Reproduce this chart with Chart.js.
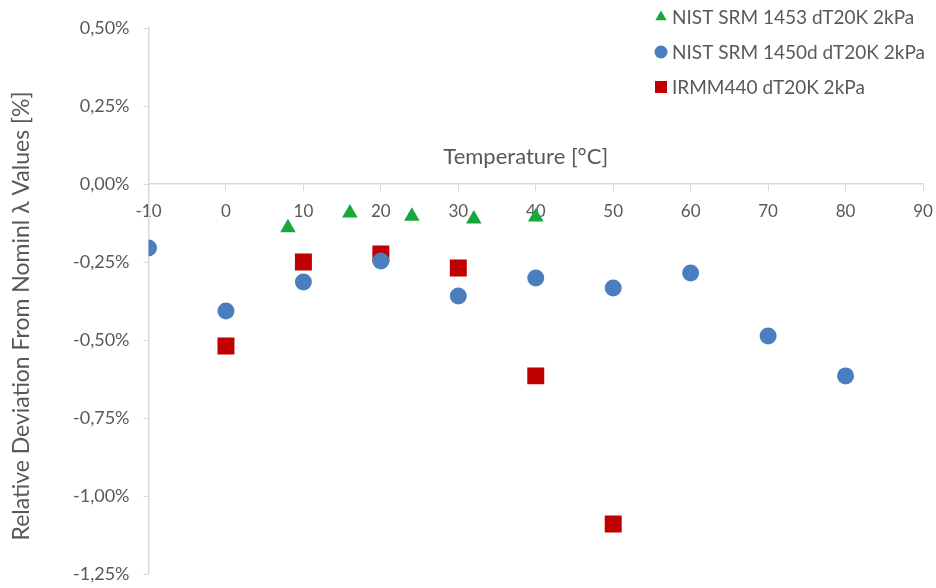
<!DOCTYPE html>
<html>
<head>
<meta charset="utf-8">
<script src="https://cdn.jsdelivr.net/npm/chart.js@4.4.1/dist/chart.umd.min.js"></script>
<style>
	html, body { margin: 0; padding: 0; background: #fff; }
	#wrap { width: 936px; height: 588px; position: relative; }
</style>
</head>
<body>
<div id="wrap"><canvas id="devChart"></canvas></div>
<script>
// values (deviation in %)
const srm1453_x = [8, 16, 24, 32, 40];
const srm1453_y = [-0.14, -0.093, -0.103, -0.112, -0.106];
const srm1450d_x = [-10, 0, 10, 20, 30, 40, 50, 60, 70, 80];
const srm1450d_y = [-0.205, -0.407, -0.314, -0.247, -0.359, -0.301, -0.333, -0.285, -0.487, -0.615];
const irmm440_x = [0, 10, 20, 30, 40, 50];
const irmm440_y = [-0.519, -0.25, -0.224, -0.269, -0.615, -1.09];
const seriesNames = ['NIST SRM 1453 dT20K 2kPa', 'NIST SRM 1450d dT20K 2kPa', 'IRMM440 dT20K 2kPa'];
const xRange = [-10, 90, 10];
const yRange = [-1.25, 0.5, 0.25];
const xTitle = 'Temperature [°C]';
const yTitle = 'Relative Deviation From Nominl λ Values [%]';

const toPts = (xs, ys) => xs.map((x, i) => ({ x: x, y: ys[i] }));
const fmtPct = (v) => {
	if (Math.abs(v) < 1e-9) v = 0;
	return v.toFixed(2).replace('.', ',') + '%';
};

const FONT = 'Lato, "Open Sans", sans-serif';
const GREY = '#595959';

// legend (stacked, top right), x title above the zero line, y title on the left
const extras = {
	id: 'extras',
	afterDraw(chart) {
		const ctx = chart.ctx;
		const xs = chart.scales.x, ys = chart.scales.y;
		ctx.save();
		ctx.font = '19px ' + FONT;
		ctx.textBaseline = 'middle';
		chart.data.datasets.forEach((ds, i) => {
			const y = 17 + i * 35;
			ctx.fillStyle = ds.backgroundColor;
			Chart.helpers.drawPoint(ctx, { pointStyle: ds.pointStyle, radius: ds.pointStyle === 'rect' ? 8.5 : 6.5, rotation: 0, borderWidth: 0 }, 661, y);
			ctx.fillStyle = GREY;
			ctx.fillText(ds.label, 672, y + 1);
		});

		ctx.font = '22px ' + FONT;
		ctx.textAlign = 'center';
		ctx.fillText(xTitle, (xs.left + xs.right) / 2 - 10, ys.getPixelForValue(0) - 27);

		ctx.translate(22, (ys.top + ys.bottom) / 2 + 15);
		ctx.rotate(-Math.PI / 2);
		ctx.font = '23px ' + FONT;
		ctx.fillText(yTitle, 0, 0);
		ctx.restore();
	}
};

const data = {
	datasets: [{
		label: seriesNames[0],
		data: toPts(srm1453_x, srm1453_y),
		pointStyle: 'triangle',
		pointRadius: 9,
		backgroundColor: '#17a83b',
		borderWidth: 0
	}, {
		label: seriesNames[1],
		data: toPts(srm1450d_x, srm1450d_y),
		pointStyle: 'circle',
		pointRadius: 8.5,
		backgroundColor: '#4a7ebf',
		borderWidth: 0
	}, {
		label: seriesNames[2],
		data: toPts(irmm440_x, irmm440_y),
		pointStyle: 'rect',
		pointRadius: 12,
		backgroundColor: '#c00000',
		borderWidth: 0
	}]
};

const config = {
	type: 'scatter',
	data: data,
	options: {
		responsive: true,
		maintainAspectRatio: false,
		animation: false,
		layout: { padding: { top: 28, right: 0, bottom: 0, left: 59 } },
		scales: {
			x: {
				type: 'linear',
				position: { y: 0 },
				min: xRange[0],
				max: xRange[1],
				ticks: { stepSize: xRange[2], color: GREY, font: { family: FONT, size: 17 }, padding: 10 },
				grid: { drawOnChartArea: false, color: '#d9d9d9', tickLength: 7, tickColor: '#d9d9d9' },
				border: { color: '#d9d9d9', width: 1.5 },
				afterFit: (scale) => { scale.paddingRight = 13; }
			},
			y: {
				min: yRange[0],
				max: yRange[1],
				ticks: { stepSize: yRange[2], color: GREY, font: { family: FONT, size: 18 }, padding: 14, callback: fmtPct },
				grid: { drawOnChartArea: false, color: '#d9d9d9', tickLength: 5, tickColor: '#d9d9d9' },
				border: { color: '#d9d9d9', width: 1.5 },
				afterFit: (scale) => { scale.paddingBottom = 14; }
			}
		},
		plugins: {
			legend: { display: false },
			tooltip: { enabled: false }
		}
	},
	plugins: [extras]
};

var ctx = document.getElementById('devChart');
if (ctx != null) {
	const chart = new Chart(ctx, config);
}
</script>
</body>
</html>
